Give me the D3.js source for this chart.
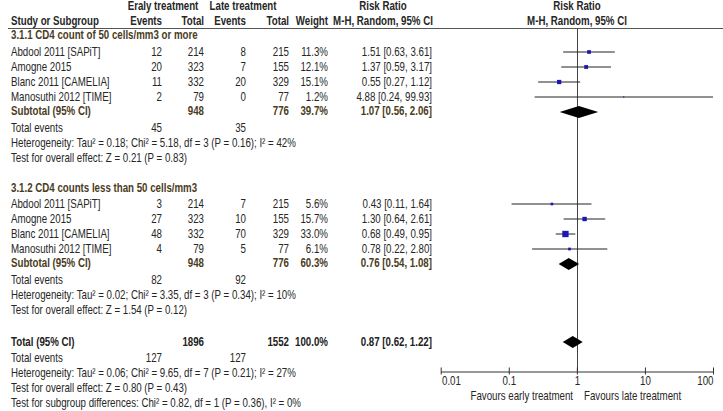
<!DOCTYPE html>
<html>
<head>
<meta charset="utf-8">
<script src="https://cdn.jsdelivr.net/npm/d3@7"></script>
<style>
  body { margin: 0; background: #fff; }
  svg text { font-family: "Liberation Sans", Arial, sans-serif; font-size: 12px; fill: #262626; }
  .b { font-weight: bold; }
</style>
</head>
<body>
<div id="chart"></div>
<script>
// study names (same trials in both subgroups)
const studies = ["Abdool 2011 [SAPiT]", "Amogne 2015", "Blanc 2011 [CAMELIA]", "Manosuthi 2012 [TIME]"];

// 3.1.1 CD4 count of 50 cells/mm3 or more
const g1EarlyEvents = [12, 20, 11, 2];
const g1EarlyTotal = [214, 323, 332, 79];
const g1LateEvents = [8, 7, 20, 0];
const g1LateTotal = [215, 155, 329, 77];
const g1Weight = [11.3, 12.1, 15.1, 1.2];
const g1RR = [1.51, 1.37, 0.55, 4.88];
const g1Lo = [0.63, 0.59, 0.27, 0.24];
const g1Hi = [3.61, 3.17, 1.12, 99.93];

// 3.1.2 CD4 counts less than 50 cells/mm3
const g2EarlyEvents = [3, 27, 48, 4];
const g2EarlyTotal = [214, 323, 332, 79];
const g2LateEvents = [7, 10, 70, 5];
const g2LateTotal = [215, 155, 329, 77];
const g2Weight = [5.6, 15.7, 33.0, 6.1];
const g2RR = [0.43, 1.30, 0.68, 0.78];
const g2Lo = [0.11, 0.64, 0.49, 0.22];
const g2Hi = [1.64, 2.61, 0.95, 2.80];

// pooled results: [subgroup 1, subgroup 2, overall]
const pooledLabel = ["Subtotal (95% CI)", "Subtotal (95% CI)", "Total (95% CI)"];
const pooledEarlyTotal = [948, 948, 1896];
const pooledLateTotal = [776, 776, 1552];
const pooledWeight = ["39.7%", "60.3%", "100.0%"];
const pooledRR = [1.07, 0.76, 0.87];
const pooledLo = [0.56, 0.54, 0.62];
const pooledHi = [2.06, 1.08, 1.22];
const pooledEventsEarly = [45, 82, 127];
const pooledEventsLate = [35, 92, 127];
const heterogeneity = [
  "Heterogeneity: Tau\u00b2 = 0.18; Chi\u00b2 = 5.18, df = 3 (P = 0.16); I\u00b2 = 42%",
  "Heterogeneity: Tau\u00b2 = 0.02; Chi\u00b2 = 3.35, df = 3 (P = 0.34); I\u00b2 = 10%",
  "Heterogeneity: Tau\u00b2 = 0.06; Chi\u00b2 = 9.65, df = 7 (P = 0.21); I\u00b2 = 27%"
];
const overallEffect = [
  "Test for overall effect: Z = 0.21 (P = 0.83)",
  "Test for overall effect: Z = 1.54 (P = 0.12)",
  "Test for overall effect: Z = 0.80 (P = 0.43)"
];
const subgroupTest = "Test for subgroup differences: Chi\u00b2 = 0.82, df = 1 (P = 0.36), I\u00b2 = 0%";
const groupTitles = ["3.1.1 CD4 count of 50 cells/mm3 or more", "3.1.2 CD4 counts less than 50 cells/mm3"];

// axis
const axisTicks = [0.01, 0.1, 1, 10, 100];
const axisTickLabels = ["0.01", "0.1", "1", "10", "100"];
const favours = ["Favours early treatment", "Favours late treatment"];

const W = 723, H = 411;
const NARROW = 0.81; // squeeze Liberation Sans to narrow width
const svg = d3.select("#chart").append("svg")
  .attr("width", W).attr("height", H);

const fmt2 = d3.format(".2f");
const ciText = (r, l, h) => fmt2(r) + " [" + fmt2(l) + ", " + fmt2(h) + "]";

// column x positions (right edges)
const col = { name: 11, evE: 162, totE: 204, evL: 246, totL: 289, wt: 328, ci: 432 };

const x = d3.scaleLog().domain([0.01, 100]).range([440.7, 713]);
const lineTop = 28, axisY = 371;

function txt(xp, yp, s, anchor, cls, color) {
  const t = svg.append("text")
    .attr("transform", "translate(" + xp + "," + yp + ") scale(" + NARROW + ",1)")
    .attr("dy", "0.35em")
    .attr("text-anchor", anchor || "start")
    .text(s);
  if (cls) t.attr("class", cls);
  if (color) t.style("fill", color);
  return t;
}

// headers
txt(163, 6, "Eraly treatment", "middle", "b");
txt(243, 6, "Late treatment", "middle", "b");
txt(383, 6, "Risk Ratio", "middle", "b");
txt(577, 6, "Risk Ratio", "middle", "b");
txt(col.name, 21, "Study or Subgroup", "start", "b");
txt(col.evE, 21, "Events", "end", "b");
txt(col.totE, 21, "Total", "end", "b");
txt(col.evL, 21, "Events", "end", "b");
txt(col.totL, 21, "Total", "end", "b");
txt(col.wt, 21, "Weight", "end", "b");
txt(383, 21, "M-H, Random, 95% CI", "middle", "b");
txt(577, 21, "M-H, Random, 95% CI", "middle", "b");

svg.append("line")
  .attr("x1", 8).attr("x2", W).attr("y1", lineTop + 0.5).attr("y2", lineTop + 0.5)
  .attr("stroke", "#555");

// line of no effect
svg.append("line")
  .attr("x1", Math.round(x(1)) + 0.5).attr("x2", Math.round(x(1)) + 0.5)
  .attr("y1", lineTop).attr("y2", axisY)
  .attr("stroke", "#444");

const groups = [
  { y0: 52, ee: g1EarlyEvents, et: g1EarlyTotal, le: g1LateEvents, lt: g1LateTotal, w: g1Weight, rr: g1RR, lo: g1Lo, hi: g1Hi, hdr: 35 },
  { y0: 204, ee: g2EarlyEvents, et: g2EarlyTotal, le: g2LateEvents, lt: g2LateTotal, w: g2Weight, rr: g2RR, lo: g2Lo, hi: g2Hi, hdr: 188 }
];

const brown = "#4a3c1c";

function diamond(i, yc) {
  const h = 6;
  const pts = [[x(pooledLo[i]), yc], [x(pooledRR[i]), yc - h], [x(pooledHi[i]), yc], [x(pooledRR[i]), yc + h]];
  svg.append("path").attr("d", d3.line()(pts) + "Z").attr("fill", "#000");
}

groups.forEach((g, gi) => {
  txt(col.name, g.hdr, groupTitles[gi], "start", "b", brown);
  studies.forEach((s, i) => {
    const yc = g.y0 + i * 15;
    txt(col.name, yc, s);
    txt(col.evE, yc, g.ee[i], "end");
    txt(col.totE, yc, g.et[i], "end");
    txt(col.evL, yc, g.le[i], "end");
    txt(col.totL, yc, g.lt[i], "end");
    txt(col.wt, yc, g.w[i].toFixed(1) + "%", "end");
    txt(col.ci, yc, ciText(g.rr[i], g.lo[i], g.hi[i]), "end");
    // CI line and weighted square
    svg.append("line")
      .attr("x1", x(g.lo[i])).attr("x2", x(g.hi[i]))
      .attr("y1", yc).attr("y2", yc)
      .attr("stroke", "#222").attr("stroke-width", 1);
    const side = 1.1 * Math.sqrt(g.w[i]);
    svg.append("rect")
      .attr("x", x(g.rr[i]) - side / 2).attr("y", yc - side / 2)
      .attr("width", side).attr("height", side)
      .attr("fill", "#1e16b4");
  });
  const ys = g.y0 + 59;
  txt(col.name, ys, pooledLabel[gi], "start", "b", brown);
  txt(col.totE, ys, pooledEarlyTotal[gi], "end", "b", brown);
  txt(col.totL, ys, pooledLateTotal[gi], "end", "b", brown);
  txt(col.wt, ys, pooledWeight[gi], "end", "b", brown);
  txt(col.ci, ys, ciText(pooledRR[gi], pooledLo[gi], pooledHi[gi]), "end", "b", brown);
  diamond(gi, ys + 1);
  txt(col.name, g.y0 + 76, "Total events");
  txt(col.evE, g.y0 + 76, pooledEventsEarly[gi], "end");
  txt(col.evL, g.y0 + 76, pooledEventsLate[gi], "end");
  txt(col.name, g.y0 + 91, heterogeneity[gi]);
  txt(col.name, g.y0 + 106, overallEffect[gi]);
});

// overall
const yt = 342;
txt(col.name, yt, pooledLabel[2], "start", "b", "#222");
txt(col.totE, yt, pooledEarlyTotal[2], "end", "b", "#222");
txt(col.totL, yt, pooledLateTotal[2], "end", "b", "#222");
txt(col.wt, yt, pooledWeight[2], "end", "b", "#222");
txt(col.ci, yt, ciText(pooledRR[2], pooledLo[2], pooledHi[2]), "end", "b", "#222");
diamond(2, yt);
txt(col.name, 358, "Total events");
txt(col.evE, 358, pooledEventsEarly[2], "end");
txt(col.evL, 358, pooledEventsLate[2], "end");
txt(col.name, 373, heterogeneity[2]);
txt(col.name, 388, overallEffect[2]);
txt(col.name, 403, subgroupTest);

// axis
const ax = svg.append("g")
  .attr("transform", "translate(0," + (axisY + 0.5) + ")")
  .call(d3.axisBottom(x).tickValues(axisTicks).tickSizeOuter(0)
    .tickFormat((d, i) => axisTickLabels[i]));
ax.attr("font-family", null).attr("font-size", null);
ax.select(".domain").attr("stroke", "#333");
ax.selectAll(".tick line").attr("y1", -4).attr("y2", 3).attr("stroke", "#333");
ax.selectAll(".tick text")
  .attr("y", 9).attr("dy", "0.35em")
  .attr("transform", "scale(" + NARROW + ",1)")
  .attr("text-anchor", (d, i) => i === 0 ? "start" : (i === axisTicks.length - 1 ? "end" : "middle"))
  .attr("x", (d, i) => i === 0 ? 1 : 0);

txt(573, 396, favours[0], "end");
txt(584, 396, favours[1], "start");
</script>
</body>
</html>
